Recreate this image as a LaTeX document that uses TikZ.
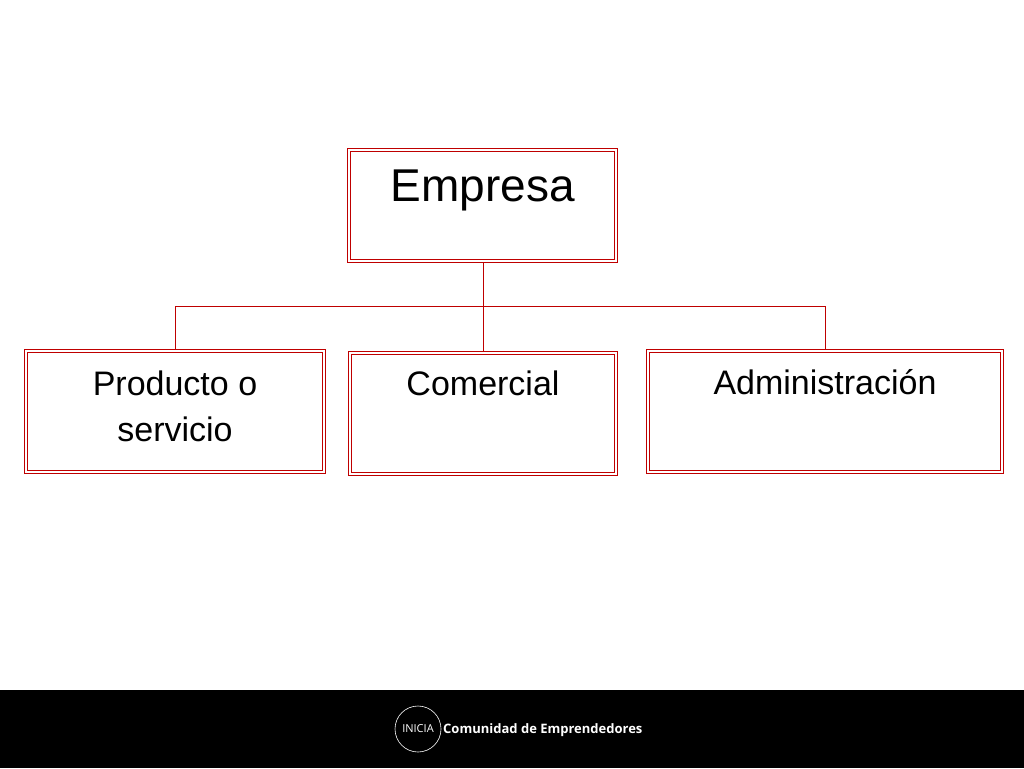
\documentclass[tikz,border=0pt]{standalone}
\usepackage{fontspec}
\setmainfont{Liberation Sans}
\newfontfamily\footfont{Open Sans}
\begin{document}
\begin{tikzpicture}[x=1pt,y=-1pt,
  box/.style={draw=red!75!black,double=white,double distance=2.2pt,line width=0.9pt},
  conn/.style={draw=red!75!black,line width=0.9pt},
  lbl/.style={align=center,text=black,inner sep=0pt}]
\useasboundingbox (0,0) rectangle (1024,768);
\fill[white] (0,0) rectangle (1024,768);
\fill[black] (0,690) rectangle (1024,768);
\draw[box] (349,150) rectangle (616,261);
\draw[box] (26,351) rectangle (324,472);
\draw[box] (350,353) rectangle (616,474);
\draw[box] (648,351) rectangle (1002,472);
\node[lbl,font=\fontsize{46}{52}\selectfont] (e) at (483,190) {Empresa};
\node[lbl,font=\fontsize{34}{46}\selectfont] (p) at (175,406) {Producto o\\servicio};
\node[lbl,font=\fontsize{34}{40}\selectfont] (c) at (483,383) {Comercial};
\node[lbl,font=\fontsize{34}{40}\selectfont] (a) at (825,382) {Administración};
\coordinate (eb) at (483,262);
\coordinate (j) at (483,306);
\coordinate (pl) at (175,306);
\coordinate (ar) at (825,306);
\draw[conn] (eb) -- (j);
\draw[conn] (pl) -- (ar);
\draw[conn] (pl) -- (175,350);
\draw[conn] (j) -- (483,352);
\draw[conn] (ar) -- (825,350);
\node[draw=white,circle,line width=0.6pt,minimum size=46pt,inner sep=0pt,text=white,font=\footfont\fontsize{11}{11}\selectfont] (logo) at (418,729) {INICIA};
\node[anchor=west,text=white,font=\footfont\bfseries\fontsize{13}{13}\selectfont,inner sep=0pt] (t) at (443,730) {Comunidad de Emprendedores};
\end{tikzpicture}
\end{document}
